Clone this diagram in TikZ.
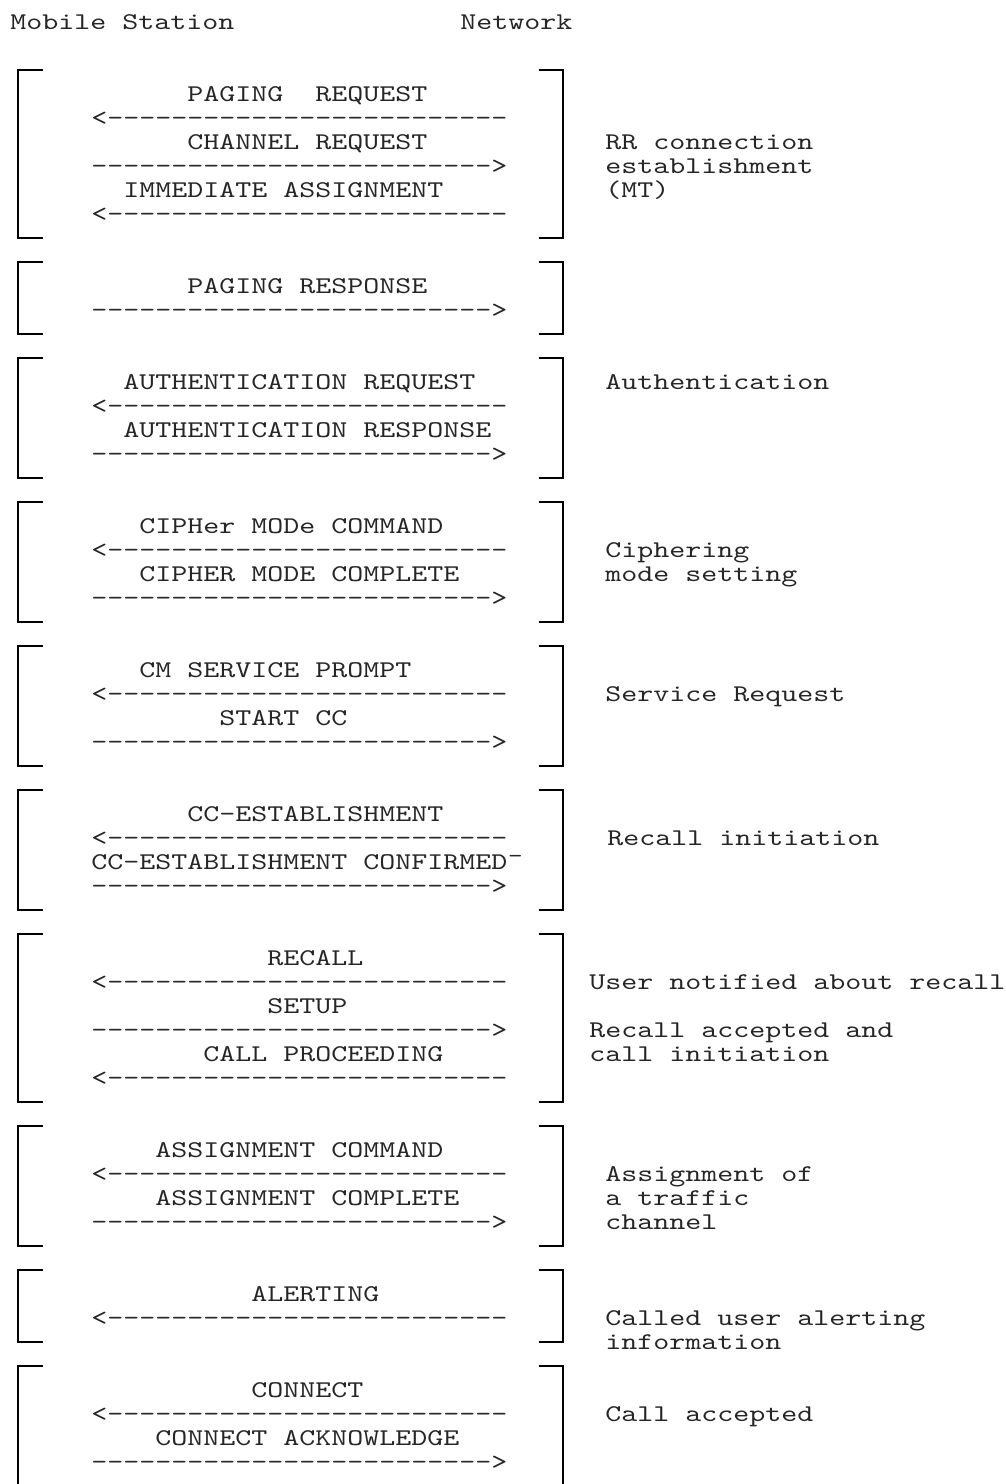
\documentclass[tikz,border=0pt]{standalone}
\usepackage{fontspec}
\usepackage{tikz}

\newfontfamily\msfont{lmmono10-regular.otf}[FakeStretch=1.27]
\newcommand{\larr}{<-------------------------}
\newcommand{\rarr}{------------------------->}

\begin{document}
\begin{tikzpicture}[x=0.5pt,y=-0.5pt,line cap=butt,line join=miter,
  mono/.style={anchor=base west,inner sep=0pt,text=black!85,font=\msfont\fontsize{12}{12}\selectfont},
  brk/.style={line width=1pt}]
  \useasboundingbox (0,0) rectangle (1006,1484);

  \node[mono] (ms) at (10,29) {Mobile Station};
  \node[mono] (net) at (460,29) {Network};

  % RR connection establishment
  \draw[brk] (43,70) -- (18,70) -- (18,238) -- (43,238);
  \draw[brk] (539,70) -- (563,70) -- (563,238) -- (539,238);
  \node[mono] (pagreq) at (187,101) {PAGING\ \ REQUEST};
  \node[mono] (pagreqa) at (91,125) {\larr};
  \node[mono] (chreq) at (187,149) {CHANNEL REQUEST};
  \node[mono] (chreqa) at (91,173) {\rarr};
  \node[mono] (immass) at (123,197) {IMMEDIATE ASSIGNMENT};
  \node[mono] (immassa) at (91,221) {\larr};
  \node[mono] (rrnote) at (605,149) {RR connection};
  \node[mono] (rrnoteb) at (605,173) {establishment};
  \node[mono] (rrnotec) at (605,197) {(MT)};

  \draw[brk] (43,262) -- (18,262) -- (18,334) -- (43,334);
  \draw[brk] (539,262) -- (563,262) -- (563,334) -- (539,334);
  \node[mono] (pagresp) at (187,293) {PAGING RESPONSE};
  \node[mono] (pagrespa) at (91,317) {\rarr};

  % authentication
  \draw[brk] (43,358) -- (18,358) -- (18,478) -- (43,478);
  \draw[brk] (539,358) -- (563,358) -- (563,478) -- (539,478);
  \node[mono] (authreq) at (123,389) {AUTHENTICATION REQUEST};
  \node[mono] (authreqa) at (91,413) {\larr};
  \node[mono] (authresp) at (123,437) {AUTHENTICATION RESPONSE};
  \node[mono] (authrespa) at (91,461) {\rarr};
  \node[mono] (authnote) at (605,389) {Authentication};

  % ciphering
  \draw[brk] (43,502) -- (18,502) -- (18,622) -- (43,622);
  \draw[brk] (539,502) -- (563,502) -- (563,622) -- (539,622);
  \node[mono] (ciphcmd) at (139,533) {CIPHer MODe COMMAND};
  \node[mono] (ciphcmda) at (91,557) {\larr};
  \node[mono] (ciphcmp) at (139,581) {CIPHER MODE COMPLETE};
  \node[mono] (ciphcmpa) at (91,605) {\rarr};
  \node[mono] (ciphnote) at (605,557) {Ciphering};
  \node[mono] (ciphnoteb) at (605,581) {mode setting};

  % service request
  \draw[brk] (43,646) -- (18,646) -- (18,766) -- (43,766);
  \draw[brk] (539,646) -- (563,646) -- (563,766) -- (539,766);
  \node[mono] (cmprompt) at (139,677) {CM SERVICE PROMPT};
  \node[mono] (cmprompta) at (91,701) {\larr};
  \node[mono] (startcc) at (219,725) {START CC};
  \node[mono] (startcca) at (91,749) {\rarr};
  \node[mono] (servnote) at (605,701) {Service Request};

  % recall initiation
  \draw[brk] (43,790) -- (18,790) -- (18,910) -- (43,910);
  \draw[brk] (539,790) -- (563,790) -- (563,910) -- (539,910);
  \node[mono] (ccest) at (187,821) {CC-ESTABLISHMENT};
  \node[mono] (ccesta) at (91,845) {\larr};
  \node[mono] (ccconf) at (91,869) {CC-ESTABLISHMENT CONFIRMED¯};
  \node[mono] (ccconfa) at (91,893) {\rarr};
  \node[mono] (recnote) at (607,845) {Recall initiation};

  \draw[brk] (43,934) -- (18,934) -- (18,1102) -- (43,1102);
  \draw[brk] (539,934) -- (563,934) -- (563,1102) -- (539,1102);
  \node[mono] (recall) at (267,965) {RECALL};
  \node[mono] (recalla) at (91,989) {\larr};
  \node[mono] (setup) at (267,1013) {SETUP};
  \node[mono] (setupa) at (91,1037) {\rarr};
  \node[mono] (callproc) at (203,1061) {CALL PROCEEDING};
  \node[mono] (callproca) at (91,1085) {\larr};
  \node[mono] (usernote) at (589,989) {User notified about recall};
  \node[mono] (accnote) at (589,1037) {Recall accepted and};
  \node[mono] (accnoteb) at (589,1061) {call initiation};

  % traffic channel
  \draw[brk] (43,1126) -- (18,1126) -- (18,1246) -- (43,1246);
  \draw[brk] (539,1126) -- (563,1126) -- (563,1246) -- (539,1246);
  \node[mono] (asscmd) at (155,1157) {ASSIGNMENT COMMAND};
  \node[mono] (asscmda) at (91,1181) {\larr};
  \node[mono] (asscmp) at (155,1205) {ASSIGNMENT COMPLETE};
  \node[mono] (asscmpa) at (91,1229) {\rarr};
  \node[mono] (assnote) at (605,1181) {Assignment of};
  \node[mono] (assnoteb) at (605,1205) {a traffic};
  \node[mono] (assnotec) at (605,1229) {channel};

  \draw[brk] (43,1270) -- (18,1270) -- (18,1342) -- (43,1342);
  \draw[brk] (539,1270) -- (563,1270) -- (563,1342) -- (539,1342);
  \node[mono] (alert) at (251,1301) {ALERTING};
  \node[mono] (alerta) at (91,1325) {\larr};
  \node[mono] (alertnote) at (605,1325) {Called user alerting};
  \node[mono] (alertnoteb) at (605,1349) {information};

  % connect, runs off the page
  \draw[brk] (43,1366) -- (18,1366) -- (18,1484);
  \draw[brk] (539,1366) -- (563,1366) -- (563,1484);
  \node[mono] (connect) at (251,1397) {CONNECT};
  \node[mono] (connecta) at (91,1421) {\larr};
  \node[mono] (conack) at (155,1445) {CONNECT ACKNOWLEDGE};
  \node[mono] (conacka) at (91,1469) {\rarr};
  \node[mono] (connote) at (605,1421) {Call accepted};
\end{tikzpicture}
\end{document}
